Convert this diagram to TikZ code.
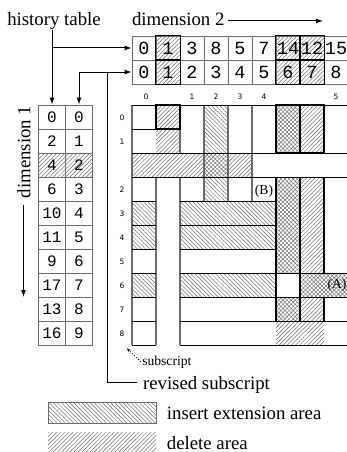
\documentclass[tikz,border=0pt]{standalone}
\usepackage{fontspec}
\setmainfont{Liberation Serif}
\newfontfamily\cellfont{Liberation Mono}
\newfontfamily\labfont{DejaVu Sans}
\usetikzlibrary{patterns.meta,arrows.meta}
\definecolor{gridgray}{gray}{0.42}
\definecolor{hatchgray}{gray}{0.42}
\tikzset{
  plain/.style={},
  delhatch/.style={pattern={Lines[angle=45,distance=2.9pt,line width=0.5pt]},pattern color=hatchgray},
  inshatch/.style={pattern={Lines[angle=-45,distance=2.9pt,line width=0.5pt]},pattern color=hatchgray},
  crosshatch/.style={pattern={Hatch[angle=45,distance=2.9pt,line width=0.45pt]},pattern color=hatchgray},
  topcell/.style={draw=gridgray,line width=0.9pt,minimum width=24pt,minimum height=24pt,inner sep=0pt,
    font=\cellfont\fontsize{18.5}{19}\selectfont},
  sidecell/.style={draw=gridgray,line width=0.9pt,minimum width=27pt,minimum height=24pt,inner sep=0pt,
    font=\cellfont\fontsize{16}{16}\selectfont},
  hl/.style={draw=black,line width=0.9pt},
  vl/.style={draw=gridgray,line width=1.1pt},
  bl/.style={draw=black,line width=1.3pt},
  conn/.style={draw=black,line width=1pt,-{Latex[length=7pt,width=5pt]}},
  idx/.style={font=\labfont\fontsize{7.5}{8}\selectfont,inner sep=0pt},
  lab/.style={inner sep=0pt},
  small/.style={inner sep=0pt,font=\fontsize{13.6}{15}\selectfont},
}
\begin{document}
\begin{tikzpicture}[x=1pt,y=-1pt,font=\fontsize{18.8}{22}\selectfont]
\useasboundingbox (0,0) rectangle (347,452);

% ---------- array area: hatched regions ----------
\fill[delhatch]   (156,105) rectangle (180,153);
\fill[delhatch]   (132,153) rectangle (204,177);
\fill[crosshatch] (204,153) rectangle (228,177);
\fill[inshatch]   (204,105) rectangle (228,153);
\fill[inshatch]   (204,177) rectangle (228,201);
\fill[delhatch]   (228,153) rectangle (252,177);
\fill[crosshatch] (276,105) rectangle (300,153);
\fill[crosshatch] (276,177) rectangle (300,273);
\fill[crosshatch] (276,297) rectangle (300,321);
\fill[delhatch]   (300,105) rectangle (324,153);
\fill[delhatch]   (300,177) rectangle (324,273);
\fill[delhatch]   (300,297) rectangle (324,321);
\fill[crosshatch] (300,273) rectangle (348,297);
\fill[inshatch]   (132,201) rectangle (156,249);
\fill[inshatch]   (132,273) rectangle (156,297);
\fill[inshatch]   (180,201) rectangle (276,249);
\fill[inshatch]   (180,273) rectangle (276,297);
\fill[delhatch]   (276,321) rectangle (324,345);

% ---------- array area: vertical lines ----------
\draw[vl] (132,105) -- (132,345);
\draw[vl] (156,177) -- (156,345);
\draw[vl] (180,105) -- (180,153) (180,177) -- (180,345);
\draw[vl] (204,105) -- (204,201);
\draw[vl] (228,105) -- (228,201);
\draw[vl] (252,105) -- (252,201);
\draw[bl] (276,177) -- (276,321);
\draw[bl] (300,177) -- (300,321);
\draw[bl] (324,177) -- (324,273) (324,297) -- (324,321);

% ---------- array area: horizontal lines ----------
\draw[hl] (132,105) -- (348,105);
\draw[hl] (132,129) -- (180,129);
\draw[hl] (132,153) -- (348,153);
\draw[hl] (132,177) -- (348,177);
\foreach \yy in {201,225,249}
  \draw[hl] (132,\yy) -- (156,\yy) (180,\yy) -- (276,\yy);
\foreach \yy in {273,297,321,345}
  \draw[hl] (132,\yy) -- (156,\yy) (180,\yy) -- (348,\yy);

% framed blocks
\draw[bl] (156,105) rectangle (180,129);
\draw[bl] (276,105) rectangle (300,153);
\draw[bl] (300,105) rectangle (324,153);

% index labels
\foreach \t/\x in {0/146,1/192,2/216,3/240,4/264,5/336}
  \node[idx] (ch\t) at (\x,97) {\t};
\foreach \t/\y in {0/118,1/142,2/190,3/214,4/238,5/262,6/286,7/310,8/334}
  \node[idx] (rh\t) at (122,\y) {\t};

\node[small] (mB) at (264,191) {(B)};
\node[small] (mA) at (337,285) {(A)};

% ---------- history / revised subscript table ----------
\foreach \v/\s [count=\i from 0] in {0/plain,1/delhatch,3/plain,8/plain,5/plain,7/plain,14/delhatch,12/delhatch,15/plain}
  \node[topcell,\s] (T1-\i) at (144+24*\i,48) {\v};
\foreach \v/\s [count=\i from 0] in {0/plain,1/delhatch,2/plain,3/plain,4/plain,5/plain,6/delhatch,7/delhatch,8/plain}
  \node[topcell,\s] (T2-\i) at (144+24*\i,72) {\v};
\foreach \i in {1,6,7}
  \draw[bl] (T1-\i.north west) rectangle (T1-\i.south east)
            (T2-\i.north west) rectangle (T2-\i.south east);

% ---------- dimension-1 table ----------
\foreach \a/\b/\s [count=\k from 0] in {0/0/plain,2/1/plain,4/2/delhatch,6/3/plain,10/4/plain,11/5/plain,9/6/plain,17/7/plain,13/8/plain,16/9/plain} {
  \node[sidecell,\s] (L-\k-a) at (52,117+24*\k) {\a};
  \node[sidecell,\s] (L-\k-b) at (79,117+24*\k) {\b};
}

% ---------- labels and connectors ----------
\node[lab,anchor=base] (ht) at (54,26) {history table};
\draw[conn] (ht.south -| L-0-a.north) -- (L-0-a.north);
\coordinate (hj) at (L-0-a.north |- T1-0.west);
\draw[conn] (hj) -- (T1-0.west);

\node[lab,outer xsep=4pt,anchor=base west] (d2) at (128,26) {dimension 2};
\coordinate (d2tip) at (323,21);
\draw[conn] (d2.east |- d2tip) -- (d2tip);

\node[lab,rotate=90] (d1) at (24,152) {dimension 1};
\coordinate (d1a) at (23.5,205);
\coordinate (d1b) at (23.5,297);
\draw[conn] (d1a) -- (d1b);

\node[lab,outer xsep=6pt,anchor=base west] (rs) at (137,389) {revised subscript};
\coordinate (rsl) at (107,382);
\coordinate (rj) at (107,72);
\draw[conn] (rs.west |- rsl) -- (rsl) -- (rj) -- (T2-0.west);
\draw[conn] (rj) -| (L-0-b.north);

\node[small,outer xsep=1.5pt,anchor=base west] (sub) at (140.8,365) {subscript};
\coordinate (subtip) at (126.5,348);
\draw[dotted,line width=0.8pt,-{Latex[length=4pt,width=3pt]}] (sub.west) -- (subtip);

% ---------- legend ----------
\draw[inshatch,draw=gridgray,line width=0.9pt] (48,402) rectangle (156,423);
\node[lab,anchor=base west] (li) at (166.7,419) {insert extension area};
\fill[delhatch] (48,432) rectangle (156,453);
\node[lab,anchor=base west] (ld) at (166.7,449) {delete area};
\end{tikzpicture}
\end{document}
